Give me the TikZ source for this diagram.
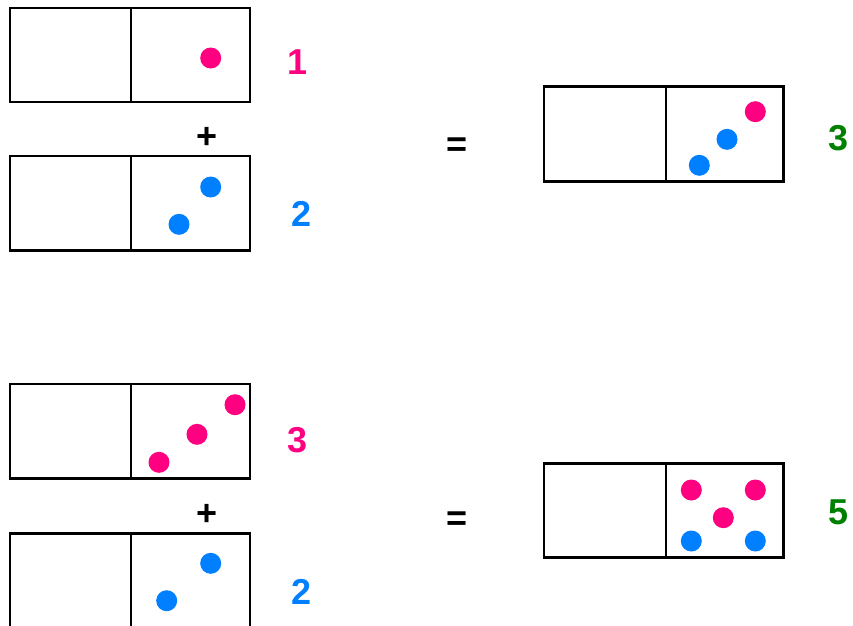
\documentclass[tikz,border=0pt]{standalone}
\usepackage{fontspec}
\setmainfont{Liberation Sans}
\usepackage{tikz}
\definecolor{dotpink}{RGB}{255,0,128}
\definecolor{dotblue}{RGB}{0,128,255}
\definecolor{sumgreen}{RGB}{0,128,0}

\begin{document}
\begin{tikzpicture}[
   x=1pt,y=-1pt,
   font=\fontsize{36}{36}\selectfont\bfseries,
   tile/.style={draw,line width=2.6pt,line join=miter},
   dot/.style={circle,inner sep=0pt,minimum size=21pt},
   P/.style={dot,fill=dotpink},
   B/.style={dot,fill=dotblue},
   num/.style={inner sep=0pt,anchor=center},
   op/.style={inner sep=0pt,anchor=center}]
\useasboundingbox (0,0) rectangle (853,625);
% first sum
\draw[tile] (10,8) rectangle (250,102);
\draw[tile] (131,8) -- (131,102);
\node[P] (a1) at (210.7,58) {};
\node[num,text=dotpink] (na) at (298,62) {1};
\node[op] (plusA) at (207,138) {+};
\draw[tile] (10,156) rectangle (250,250.7);
\draw[tile] (131,156) -- (131,250.7);
\node[B] (b1) at (210.7,187) {};
\node[B] (b2) at (179,224.3) {};
\node[num,text=dotblue] (nb) at (301.7,214) {2};
\node[op] (eqA) at (456.7,147) {=};
\draw[tile] (544,86.7) rectangle (783.3,181.7);
\draw[tile] (666,86.7) -- (666,181.7);
\node[P] (c1) at (755.3,111.7) {};
\node[B] (c2) at (727,139.3) {};
\node[B] (c3) at (699.3,165.3) {};
\node[num,text=sumgreen] (nc) at (838.3,138.3) {3};
% second sum
\draw[tile] (10,384) rectangle (250,478.3);
\draw[tile] (131,384) -- (131,478.3);
\node[P] (d1) at (235,404.7) {};
\node[P] (d2) at (197,434.3) {};
\node[P] (d3) at (159,462.3) {};
\node[num,text=dotpink] (nd) at (297.7,440) {3};
\node[op] (plusB) at (206.7,514.7) {+};
\draw[tile] (10,533.3) rectangle (250,628);
\draw[tile] (131,533.3) -- (131,628);
\node[B] (e1) at (210.7,563.3) {};
\node[B] (e2) at (166.7,600.7) {};
\node[num,text=dotblue] (ne) at (301.7,592) {2};
\node[op] (eqB) at (456.7,521) {=};
\draw[tile] (544,463.7) rectangle (783.3,557.7);
\draw[tile] (666,463.7) -- (666,557.7);
\node[P] (f1) at (691.3,490) {};
\node[P] (f2) at (755.3,490) {};
\node[P] (f3) at (723.3,517.7) {};
\node[B] (f4) at (691.3,541) {};
\node[B] (f5) at (755.3,541) {};
\node[num,text=sumgreen] (nf) at (838.3,512.7) {5};
\end{tikzpicture}
\end{document}
